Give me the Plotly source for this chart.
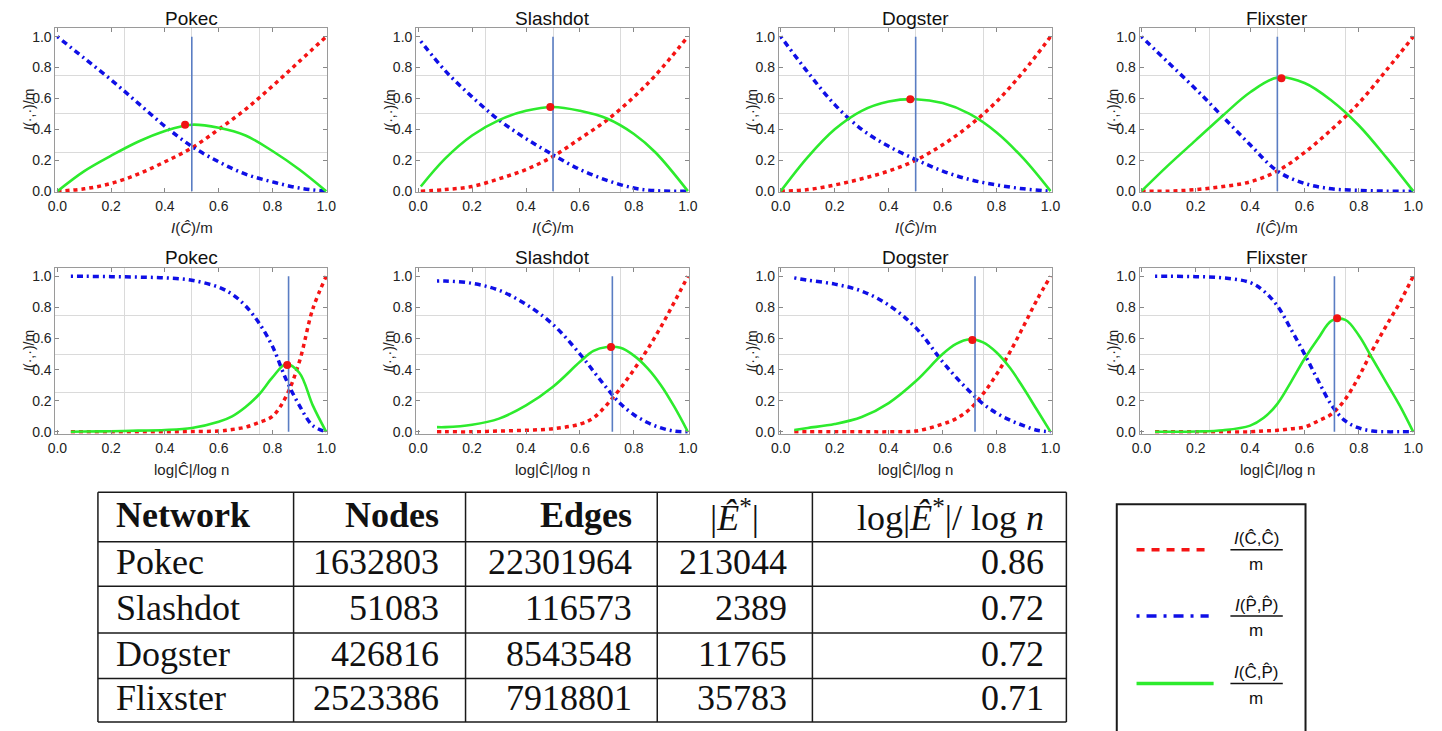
import plotly.graph_objects as go

W, H = 1442, 731

# ---------------- data ----------------
networks = ["Pokec", "Slashdot", "Dogster", "Flixster"]
nodes = [1632803, 51083, 426816, 2523386]
edges = [22301964, 116573, 8543548, 7918801]
e_star = [213044, 2389, 11765, 35783]
log_ratio = [0.86, 0.72, 0.72, 0.71]
header = ["<b>Network</b>", "<b>Nodes</b>", "<b>Edges</b>",
          "|<i>Ê</i><sup>*</sup>|", "log|<i>Ê</i><sup>*</sup>|/ log <i>n</i>"]

top_split = [0.5, 0.5, 0.5, 0.5]
tick_vals = [0.0, 0.2, 0.4, 0.6, 0.8, 1.0]
grid_vals = [0.25, 0.5, 0.75]

# top row: x = I(C)/m ; cc = I(C,C)/m, pp = I(P,P)/m, cp = I(C,P)/m
pokec_top_x = [0, .1, .2, .3, .4, .5, .6, .7, .8, .9, 1]
pokec_top_cc = [0, .015, .05, .11, .19, .28, .40, .53, .68, .84, 1]
pokec_top_pp = [1, .86, .72, .57, .42, .29, .19, .11, .06, .02, 0]
pokec_top_cp = [0, .13, .23, .32, .39, .43, .41, .36, .26, .14, 0]

slash_top_x = [.01, .1, .2, .3, .4, .5, .6, .7, .8, .88, 1]
slash_top_cc = [0, .01, .03, .08, .14, .225, .34, .46, .61, .75, 1]
slash_top_pp = [.97, .78, .61, .46, .34, .235, .14, .07, .02, .003, 0]
slash_top_cp = [.03, .21, .36, .46, .52, .545, .52, .47, .37, .25, 0]

dog_top_x = [0, .1, .2, .3, .4, .5, .6, .7, .8, .9, 1]
dog_top_cc = [0, .01, .04, .08, .13, .20, .30, .425, .58, .775, 1]
dog_top_pp = [1, .77, .56, .40, .29, .205, .13, .075, .04, .015, 0]
dog_top_cp = [0, .22, .40, .52, .58, .595, .57, .50, .38, .21, 0]

flix_top_x = [0, .1, .2, .3, .4, .5, .6, .7, .8, .9, 1]
flix_top_cc = [0, 0, .01, .03, .06, .13, .25, .40, .57, .78, 1]
flix_top_pp = [1, .83, .66, .48, .30, .13, .05, .015, .005, 0, 0]
flix_top_cp = [0, .17, .33, .49, .64, .735, .70, .585, .425, .22, 0]

# bottom row: x = log|C|/log n
pokec_bot_x = [.05, .1, .2, .3, .4, .5, .6, .65, .7, .75, .8, .85, .9, .95, 1]
pokec_bot_cc = [0, 0, 0, 0, 0, .002, .005, .015, .03, .06, .10, .225, .45, .79, 1]
pokec_bot_pp = [1, 1, .998, .995, .99, .975, .93, .885, .81, .70, .55, .34, .17, .04, 0]
pokec_bot_cp = [0, .002, .004, .008, .012, .025, .065, .10, .16, .24, .35, .435, .38, .17, 0]

slash_bot_x = [.07, .1, .2, .3, .4, .5, .6, .65, .7, .75, .8, .85, .9, .95, 1]
slash_bot_cc = [0, 0, 0, .005, .01, .02, .05, .09, .175, .28, .40, .53, .675, .835, 1]
slash_bot_pp = [.97, .97, .955, .91, .82, .69, .50, .39, .28, .18, .11, .06, .025, .005, 0]
slash_bot_cp = [.03, .03, .045, .085, .17, .29, .45, .52, .545, .54, .49, .41, .30, .16, 0]

dog_bot_x = [.05, .1, .2, .3, .4, .5, .6, .65, .7, .75, .8, .85, .9, .95, 1]
dog_bot_cc = [0, 0, 0, 0, 0, .005, .05, .085, .145, .245, .37, .515, .68, .85, 1]
dog_bot_pp = [.99, .975, .95, .905, .815, .67, .45, .35, .26, .18, .12, .075, .04, .01, 0]
dog_bot_cp = [.012, .025, .05, .095, .185, .325, .50, .565, .595, .575, .51, .41, .28, .14, 0]

flix_bot_x = [.05, .1, .2, .3, .4, .45, .5, .55, .6, .65, .7, .75, .8, .85, .9, .95, 1]
flix_bot_cc = [0, 0, 0, 0, 0, .005, .01, .02, .03, .07, .115, .21, .355, .525, .68, .83, 1]
flix_bot_pp = [1, 1, .998, .99, .96, .905, .81, .66, .50, .33, .17, .07, .025, .005, 0, 0, 0]
flix_bot_cp = [0, 0, .002, .01, .04, .09, .18, .32, .47, .60, .715, .72, .62, .47, .32, .17, 0]

top_peak_x = [0.475, 0.49, 0.48, 0.515]
top_peak_y = [0.43, 0.545, 0.595, 0.73]
bot_peak_x = [0.855, 0.715, 0.71, 0.72]
bot_peak_y = [0.43, 0.545, 0.59, 0.73]

top_curves = [
    (pokec_top_x, pokec_top_cc, pokec_top_pp, pokec_top_cp),
    (slash_top_x, slash_top_cc, slash_top_pp, slash_top_cp),
    (dog_top_x, dog_top_cc, dog_top_pp, dog_top_cp),
    (flix_top_x, flix_top_cc, flix_top_pp, flix_top_cp),
]
bot_curves = [
    (pokec_bot_x, pokec_bot_cc, pokec_bot_pp, pokec_bot_cp),
    (slash_bot_x, slash_bot_cc, slash_bot_pp, slash_bot_cp),
    (dog_bot_x, dog_bot_cc, dog_bot_pp, dog_bot_cp),
    (flix_bot_x, flix_bot_cc, flix_bot_pp, flix_bot_cp),
]

# ---------------- layout geometry (pixels) ----------------
col_x0 = [50, 415, 782, 1147]     # pixel of x = 0
col_x1 = [322, 688, 1055, 1422]   # pixel of x = 1
row_geo = [
    dict(y1=37, y0=193, top=28, bot=194, title=19),
    dict(y1=279, y0=436, top=271, bot=438, title=260),
]

RED = "rgb(245,20,20)"
BLUE = "rgb(15,15,230)"
GREEN = "rgb(45,235,45)"
VLINE = "rgb(90,125,195)"
SANS = "Liberation Sans, Arial, sans-serif"
SERIF = "Liberation Serif, Times New Roman, serif"


def px(xp):
    return xp / W


def py(yp):
    return 1 - yp / H


fig = go.Figure()
annotations = []
shapes = []
layout_axes = {}

x_titles = ["<i>I</i>(<i>Ĉ</i>)/m", "log|Ĉ|/log n"]

for r in range(2):
    g = row_geo[r]
    curves = top_curves if r == 0 else bot_curves
    for c in range(4):
        idx = r * 4 + c + 1
        xs = "" if idx == 1 else str(idx)
        x0, x1 = col_x0[c], col_x1[c]
        wpx = x1 - x0
        ppu = g["y0"] - g["y1"]
        xrange_ = [-2 / wpx, 1 + 1 / wpx]
        yrange_ = [-(g["bot"] - g["y0"]) / ppu, 1 + (g["y1"] - g["top"]) / ppu]
        common = dict(
            tickmode="array", tickvals=tick_vals,
            ticktext=[f"{v:.1f}" for v in tick_vals],
            ticks="inside", ticklen=4, tickwidth=1, tickcolor="#888",
            showline=True, linecolor="#9a9a9a", linewidth=1, mirror="ticks",
            showgrid=False, zeroline=False,
            tickfont=dict(family=SANS, size=14, color="#222"),
            minor=dict(tickmode="array", tickvals=grid_vals, showgrid=True,
                       gridcolor="#dadada", gridwidth=1, ticks=""),
            fixedrange=True,
        )
        layout_axes["xaxis" + xs] = dict(
            common, domain=[px(x0 - 2), px(x1 + 1)], range=xrange_,
            anchor="y" + xs, ticklabelstandoff=1)
        layout_axes["yaxis" + xs] = dict(
            common, domain=[py(g["bot"]), py(g["top"])], range=yrange_,
            anchor="x" + xs, ticklabelstandoff=0)

        cx, cc, pp, cp = curves[c]
        fig.add_trace(go.Scatter(
            x=cx, y=cc, mode="lines", xaxis="x" + xs, yaxis="y" + xs,
            line=dict(color=RED, width=3.5, dash="4px,4px", shape="spline"),
            showlegend=False, hoverinfo="skip"))
        fig.add_trace(go.Scatter(
            x=cx, y=pp, mode="lines", xaxis="x" + xs, yaxis="y" + xs,
            line=dict(color=BLUE, width=3.5, dash="2px,4px,6px,4px", shape="spline"),
            showlegend=False, hoverinfo="skip"))
        fig.add_trace(go.Scatter(
            x=cx, y=cp, mode="lines", xaxis="x" + xs, yaxis="y" + xs,
            line=dict(color=GREEN, width=2.6, shape="spline"),
            showlegend=False, hoverinfo="skip"))
        vx = top_split[c] if r == 0 else log_ratio[c]
        fig.add_trace(go.Scatter(
            x=[vx, vx], y=[0, 1], mode="lines", xaxis="x" + xs, yaxis="y" + xs,
            line=dict(color=VLINE, width=1.6), showlegend=False, hoverinfo="skip"))
        pkx = top_peak_x[c] if r == 0 else bot_peak_x[c]
        pky = top_peak_y[c] if r == 0 else bot_peak_y[c]
        fig.add_trace(go.Scatter(
            x=[pkx], y=[pky], mode="markers", xaxis="x" + xs, yaxis="y" + xs,
            marker=dict(color="rgb(240,20,20)", size=8), showlegend=False,
            hoverinfo="skip"))

        # subplot title
        annotations.append(dict(
            text=networks[c], x=px((x0 + x1) / 2), y=py(g["title"]),
            xref="paper", yref="paper", xanchor="center", yanchor="middle",
            showarrow=False, font=dict(family=SANS, size=19, color="#111")))
        # x axis title
        annotations.append(dict(
            text=x_titles[r], x=px((x0 + x1) / 2), y=py(g["bot"] + 36),
            xref="paper", yref="paper", xanchor="center", yanchor="middle",
            showarrow=False, font=dict(family=SANS, size=15, color="#222")))
        # y axis title
        annotations.append(dict(
            text="<i>I</i>(·,·)/m", x=px(x0 - 29), y=py((g["top"] + g["bot"]) / 2),
            xref="paper", yref="paper", xanchor="center", yanchor="middle",
            textangle=-90, showarrow=False,
            font=dict(family=SANS, size=14, color="#222")))

# ---------------- table ----------------
tbl_cols = [91, 289, 463, 657, 814, 1071]
tbl_rows = [497, 547, 592, 639, 685, 729]
cell_anchor_x = [107, 438, 633, 790, 1050]
cell_align = ["left", "right", "right", "right", "right"]
head_anchor_x = [107, 438, 633, 735, 1050]
head_align = ["left", "right", "right", "center", "right"]

for xc in tbl_cols:
    shapes.append(dict(type="line", xref="paper", yref="paper",
                       x0=px(xc), x1=px(xc), y0=py(tbl_rows[0]), y1=py(tbl_rows[-1]),
                       line=dict(color="#1a1a1a", width=1.5)))
for yr in tbl_rows:
    shapes.append(dict(type="line", xref="paper", yref="paper",
                       x0=px(tbl_cols[0]), x1=px(tbl_cols[-1]), y0=py(yr), y1=py(yr),
                       line=dict(color="#1a1a1a", width=1.5)))

for j, txt in enumerate(header):
    annotations.append(dict(
        text=txt, x=px(head_anchor_x[j]), y=py((tbl_rows[0] + tbl_rows[1]) / 2 - 2),
        xref="paper", yref="paper", xanchor=head_align[j], yanchor="middle",
        showarrow=False, font=dict(family=SERIF, size=36, color="#111")))

for i in range(len(networks)):
    vals = [networks[i], str(nodes[i]), str(edges[i]), str(e_star[i]),
            f"{log_ratio[i]:.2f}"]
    yc = (tbl_rows[i + 1] + tbl_rows[i + 2]) / 2 - 2
    for j, txt in enumerate(vals):
        annotations.append(dict(
            text=txt, x=px(cell_anchor_x[j]), y=py(yc),
            xref="paper", yref="paper", xanchor=cell_align[j], yanchor="middle",
            showarrow=False, font=dict(family=SERIF, size=36, color="#111")))

# ---------------- legend box ----------------
legend_labels = ["<i>I</i>(Ĉ,Ĉ)", "<i>I</i>(P̂,P̂)", "<i>I</i>(Ĉ,P̂)"]
legend_colors = [RED, BLUE, GREEN]
legend_dash = ["8px,7px", "3px,7px,10px,7px", "solid"]
legend_y = [555, 622, 690]
legend_line_x = [(1142, 1215), (1142, 1215), (1142, 1220)]

shapes.append(dict(type="rect", xref="paper", yref="paper",
                   x0=px(1122), x1=px(1313), y0=py(509), y1=py(740),
                   line=dict(color="#1a1a1a", width=2)))
for k in range(3):
    yl = legend_y[k]
    lx0, lx1 = legend_line_x[k]
    shapes.append(dict(type="line", xref="paper", yref="paper",
                       x0=px(lx0), x1=px(lx1), y0=py(yl), y1=py(yl),
                       line=dict(color=legend_colors[k], width=3.5, dash=legend_dash[k])))
    shapes.append(dict(type="line", xref="paper", yref="paper",
                       x0=px(1237), x1=px(1290), y0=py(yl), y1=py(yl),
                       line=dict(color="#111", width=1.5)))
    annotations.append(dict(
        text=legend_labels[k], x=px(1263), y=py(yl - 11), xref="paper", yref="paper",
        xanchor="center", yanchor="middle", showarrow=False,
        font=dict(family=SANS, size=17, color="#111")))
    annotations.append(dict(
        text="m", x=px(1263), y=py(yl + 15), xref="paper", yref="paper",
        xanchor="center", yanchor="middle", showarrow=False,
        font=dict(family=SANS, size=17, color="#111")))

fig.update_layout(
    width=W, height=H, margin=dict(l=0, r=0, t=0, b=0),
    paper_bgcolor="white", plot_bgcolor="white",
    showlegend=False, annotations=annotations, shapes=shapes,
    **layout_axes,
)

fig.write_html("out.html")
